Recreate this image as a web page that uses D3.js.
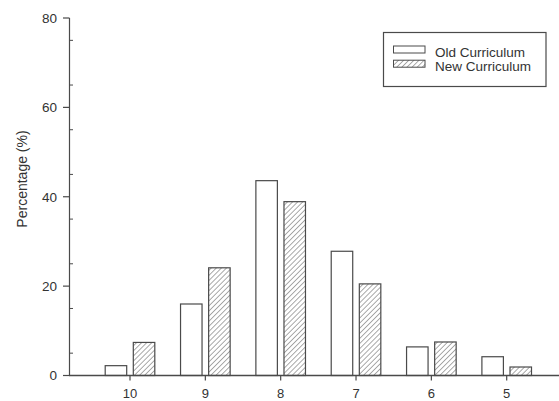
<!DOCTYPE html>
<html><head><meta charset="utf-8">
<script src="https://cdn.jsdelivr.net/npm/d3@7"></script>
<style>body{margin:0;background:#fff;}svg{display:block;}</style>
</head><body>
<svg id="c" width="559" height="401"></svg>
<script>
const categories = ["10","9","8","7","6","5"];
const oldCurriculum = [2.2, 16.0, 43.6, 27.8, 6.4, 4.2];
const newCurriculum = [7.4, 24.1, 38.9, 20.5, 7.5, 1.9];
const seriesNames = ["Old Curriculum","New Curriculum"];
const yTicks = [0,20,40,60,80];

const svg = d3.select("#c");
const col = "#4a4a4a", txt = "#333";
const font = "Liberation Sans, Arial, sans-serif";

const defs = svg.append("defs");
const pat = defs.append("pattern").attr("id","hatch").attr("patternUnits","userSpaceOnUse")
  .attr("width",3.6).attr("height",3.6).attr("patternTransform","rotate(45)");
pat.append("rect").attr("width",3.6).attr("height",3.6).attr("fill","#fff");
pat.append("line").attr("x1",0).attr("y1",0).attr("x2",0).attr("y2",3.6)
  .attr("stroke","#555").attr("stroke-width",1);

const x = d3.scaleLinear().domain([0,5]).range([130,506.7]);
const y = d3.scaleLinear().domain([0,80]).range([375.5,18]);
const bw = 21.5, gap = 3.3;

// bars
const g = svg.append("g");
g.selectAll("rect.old").data(oldCurriculum).join("rect")
  .attr("x",(d,i)=>x(i)-gap-bw).attr("y",d=>y(d)).attr("width",bw).attr("height",d=>y(0)-y(d))
  .attr("fill","#fff").attr("stroke",col).attr("stroke-width",1.2);
g.selectAll("rect.new").data(newCurriculum).join("rect")
  .attr("x",(d,i)=>x(i)+gap).attr("y",d=>y(d)).attr("width",bw).attr("height",d=>y(0)-y(d))
  .attr("fill","url(#hatch)").attr("stroke",col).attr("stroke-width",1.2);

// y axis
const yl = svg.append("g");
yl.append("line").attr("x1",69.5).attr("x2",69.5).attr("y1",y(80)).attr("y2",y(0)).attr("stroke",col).attr("stroke-width",1.2);
yTicks.forEach(t=>{
  yl.append("line").attr("x1",63).attr("x2",69.5).attr("y1",y(t)).attr("y2",y(t)).attr("stroke",col).attr("stroke-width",1.2);
  yl.append("text").attr("x",57).attr("y",y(t)).attr("dy","0.36em").attr("text-anchor","end")
    .attr("font-family",font).attr("font-size",13.5).attr("fill",txt).text(t);
});
d3.range(5,80,10).forEach(t=>{
  yl.append("line").attr("x1",69.5).attr("x2",73).attr("y1",y(t)).attr("y2",y(t)).attr("stroke",col).attr("stroke-width",1);
});
svg.append("text").attr("transform","translate(27,179) rotate(-90)").attr("text-anchor","middle")
  .attr("font-family",font).attr("font-size",14).attr("fill",txt).text("Percentage (%)");

// x axis
const xl = svg.append("g");
xl.append("line").attr("x1",69).attr("x2",559).attr("y1",y(0)).attr("y2",y(0)).attr("stroke",col).attr("stroke-width",1.4);
categories.forEach((c,i)=>{
  xl.append("line").attr("x1",x(i)).attr("x2",x(i)).attr("y1",y(0)).attr("y2",y(0)+5).attr("stroke",col).attr("stroke-width",1.2);
  xl.append("text").attr("x",x(i)).attr("y",397.5).attr("text-anchor","middle")
    .attr("font-family",font).attr("font-size",13).attr("fill",txt).text(c);
});

// legend
const lg = svg.append("g");
lg.append("rect").attr("x",383.5).attr("y",32.5).attr("width",162.5).attr("height",54).attr("fill","#fff").attr("stroke",col).attr("stroke-width",1.2);
const fills = ["#fff","url(#hatch)"];
seriesNames.forEach((s,i)=>{
  const yy = 46 + i*14.2;
  lg.append("rect").attr("x",393.5).attr("y",yy).attr("width",31.5).attr("height",7).attr("fill",fills[i]).attr("stroke",col).attr("stroke-width",1);
  lg.append("text").attr("x",435).attr("y",yy+10.8).attr("font-family",font).attr("font-size",13.5).attr("fill",txt).text(s);
});
</script>
</body></html>
